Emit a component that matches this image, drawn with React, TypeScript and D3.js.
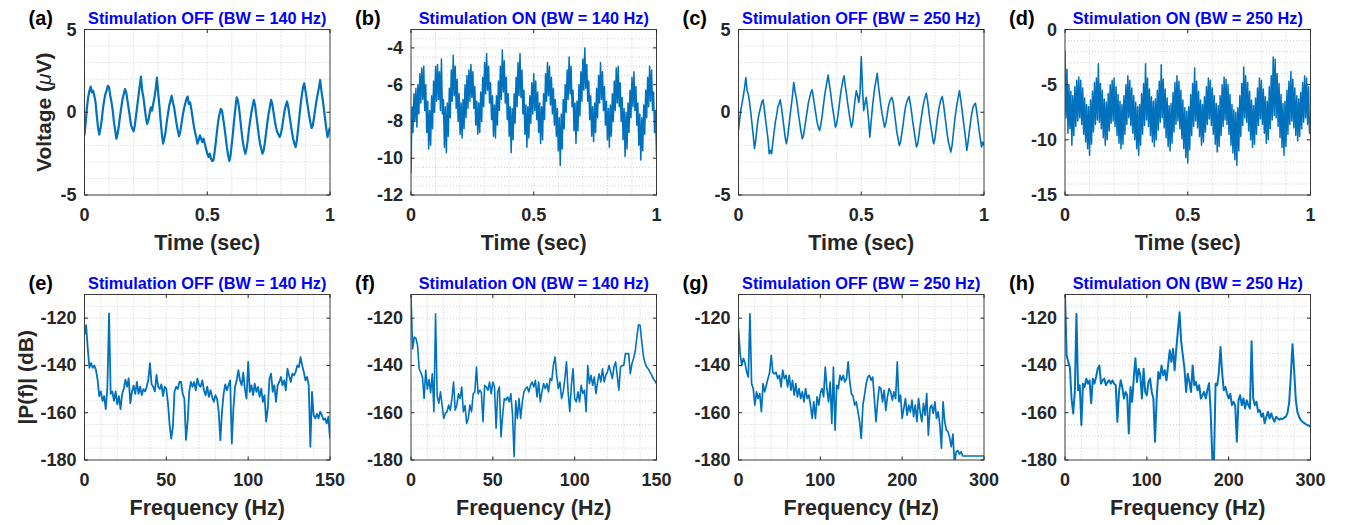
import React from "react";
import * as d3 from "d3";

// ---------------- data ----------------
const panelLabels = ["(a)", "(b)", "(c)", "(d)", "(e)", "(f)", "(g)", "(h)"];
const panelTitles = [
  "Stimulation OFF (BW = 140 Hz)",
  "Stimulation ON (BW = 140 Hz)",
  "Stimulation OFF (BW = 250 Hz)",
  "Stimulation ON (BW = 250 Hz)",
  "Stimulation OFF (BW = 140 Hz)",
  "Stimulation ON (BW = 140 Hz)",
  "Stimulation OFF (BW = 250 Hz)",
  "Stimulation ON (BW = 250 Hz)",
];
const timeTicks = [0, 0.5, 1];
const freqTicks150 = [0, 50, 100, 150];
const freqTicks300 = [0, 100, 200, 300];
const yTicksA = [-5, 0, 5];
const yTicksB = [-12, -10, -8, -6, -4];
const yTicksC = [-5, 0, 5];
const yTicksD = [-15, -10, -5, 0];
const yTicksPsd = [-180, -160, -140, -120];
const psdStep150 = 1; // Hz between samples
const psdStep300 = 2;

// (a) voltage, 0..1 s
const voltA = [
  -1.4, -0.6, 0.3, 0.9, 1.3, 1.55, 1.2, 1.3, 1.0, 0.6,
  -0.2, -0.9, -1.35, -1.0, -0.5, 0.2, 0.7, 1.1, 1.3, 1.6,
  1.5, 1.0, 0.6, 0.1, -0.6, -1.1, -1.6, -1.3, -0.8, -0.2,
  0.3, 0.8, 1.1, 1.4, 1.2, 0.7, 0.2, -0.3, -0.8, -1.0,
  -1.15, -0.8, -0.2, 0.4, 1.0, 1.6, 2.15, 1.3, 0.9, 0.3,
  -0.3, -0.7, -0.5, -0.1, 0.3, 0.1, 0.5, 0.9, 1.4, 2.1,
  1.2, 0.4, -0.5, -1.3, -1.9, -1.6, -1.2, -0.6, -0.1, 0.4,
  0.7, 1.0, 0.6, 0.3, -0.2, -0.7, -1.1, -1.45, -1.2, -0.7,
  -0.2, 0.2, 0.5, 0.8, 0.95, 0.5, 0.6, 0.2, -0.3, -0.8,
  -1.2, -1.5, -1.9, -1.7, -1.4, -1.6, -1.8, -1.6, -1.9, -2.2,
  -2.5, -2.7, -2.5, -2.8, -2.95, -2.9, -2.4, -1.8, -1.1, -0.5,
  -0.1, 0.2, 0.1, -0.4, -0.9, -1.5, -2.1, -2.6, -2.95, -2.6,
  -1.9, -1.2, -0.4, 0.3, 0.9, 0.7, 0.2, -0.5, -1.2, -1.8,
  -2.2, -2.5, -2.2, -1.7, -1.0, -0.5, 0.0, 0.4, 0.75, 0.4,
  -0.2, -0.8, -1.4, -1.9, -2.2, -2.5, -2.3, -1.8, -1.2, -0.6,
  -0.1, 0.3, 0.75, 0.5, 0.0, -0.5, -0.9, -1.2, -1.35, -1.5,
  -1.3, -0.9, -0.4, 0.1, 0.4, 0.65, 0.3, -0.2, -0.7, -1.2,
  -1.6, -1.9, -2.1, -1.7, -1.0, -0.3, 0.4, 1.0, 1.5, 1.75,
  1.3, 0.8, 0.3, -0.2, -0.6, -0.95, -0.8, -0.3, 0.2, 0.7,
  1.1, 1.5, 1.95, 1.3, 0.8, 0.2, -0.4, -1.0, -1.5, -1.2,
  -0.9,
];

// (b) voltage, 0..1 s
const voltB = [
  -10.8, -7.2, -8.6, -6.5, -8.0, -6.2, -8.3, -6.0, -7.6, -5.4,
  -7.0, -5.1, -6.8, -5.0, -7.4, -6.0, -8.6, -6.9, -9.5, -7.4,
  -9.3, -6.6, -8.4, -5.8, -7.5, -5.0, -6.9, -4.9, -6.8, -5.3,
  -7.4, -4.6, -7.6, -6.8, -9.4, -7.2, -9.7, -7.0, -8.8, -6.2,
  -7.8, -5.2, -6.9, -4.4, -6.6, -5.0, -7.3, -5.7, -8.0, -6.5,
  -8.7, -7.0, -8.9, -6.8, -8.4, -6.0, -7.8, -5.5, -7.3, -5.2,
  -6.9, -4.9, -6.7, -5.3, -7.3, -6.1, -8.2, -6.9, -8.7, -7.0,
  -8.6, -6.4, -8.0, -5.6, -7.2, -4.8, -6.5, -4.3, -6.3, -5.0,
  -7.0, -5.9, -7.9, -6.6, -8.8, -7.1, -8.9, -6.6, -8.2, -5.8,
  -7.4, -5.0, -6.8, -4.1, -6.4, -4.7, -7.0, -5.6, -7.9, -6.5,
  -8.8, -7.2, -9.7, -7.3, -9.0, -6.5, -8.1, -5.6, -7.2, -4.8,
  -6.6, -4.3, -6.7, -5.2, -7.6, -6.3, -8.7, -7.1, -9.4, -7.2,
  -8.9, -6.6, -8.1, -5.9, -7.6, -5.4, -7.4, -5.8, -7.9, -6.4,
  -8.6, -7.0, -9.2, -7.2, -9.0, -6.5, -7.9, -5.4, -6.9, -4.8,
  -6.6, -5.0, -7.1, -5.6, -7.6, -6.2, -8.2, -6.8, -8.8, -7.3,
  -9.6, -7.8, -10.4, -7.6, -9.5, -6.8, -8.4, -6.0, -7.5, -5.2,
  -6.8, -4.5, -6.5, -5.0, -7.2, -6.3, -8.5, -7.0, -9.2, -6.9,
  -8.5, -6.0, -7.7, -5.3, -6.9, -4.6, -6.3, -4.0, -6.2, -4.9,
  -6.9, -5.8, -7.9, -6.6, -8.8, -7.2, -9.1, -7.0, -8.6, -6.2,
  -7.8, -5.5, -7.0, -4.8, -6.8, -5.3, -7.4, -6.1, -8.2, -6.9,
  -9.0, -7.3, -9.4, -7.1, -8.8, -6.5, -8.0, -5.8, -7.4, -5.1,
  -7.0, -5.0, -7.2, -5.9, -8.0, -6.7, -9.0, -7.3, -9.9, -7.5,
  -9.5, -7.0, -8.6, -6.3, -7.8, -5.6, -7.2, -5.3, -7.4, -6.1,
  -8.2, -7.0, -9.3, -7.6, -10.1, -7.8, -9.6, -7.1, -8.7, -6.3,
  -7.8, -5.6, -7.2, -5.0, -6.9, -5.2, -7.4, -6.4, -8.6, -7.4,
  -9.9,
];

// (c) voltage, 0..1 s
const voltC = [
  -1.1, -0.4, 0.2, 0.6, 1.0, 1.5, 2.1, 1.3, 1.1, 0.6,
  0.0, -0.7, -1.4, -2.2, -1.7, -1.0, -0.4, 0.0, 0.3, 0.6,
  0.75, 0.2, -0.4, -1.0, -1.6, -2.5, -2.3, -2.5, -1.8, -1.2,
  -0.6, -0.2, 0.3, 0.5, 0.75, 0.3, -0.3, -0.9, -1.5, -1.9,
  -1.5, -0.9, -0.2, 0.4, 1.0, 1.8, 1.3, 0.9, 0.4, -0.2,
  -0.7, -1.2, -1.6, -1.4, -0.9, -0.4, 0.1, 0.6, 0.9, 1.2,
  1.35, 0.9, 0.4, -0.1, -0.6, -0.9, -1.1, -0.8, -0.3, 0.3,
  0.9, 1.4, 1.8, 2.25, 1.7, 1.2, 0.6, 0.1, -0.4, -0.9,
  -0.7, -0.2, 0.4, 1.0, 1.5, 1.9, 2.2, 1.6, 1.1, 0.5,
  0.0, -0.5, -0.9, -0.6, 0.1, 0.8, 1.3, 1.0, 0.6, 1.2,
  3.35, 1.5, 0.1, 0.5, 0.9, 0.3, -0.5, -1.5, -0.6, 0.2,
  0.9, 1.5, 1.9, 2.35, 1.6, 1.0, 0.4, -0.1, -0.5, -0.9,
  -0.7, -0.2, 0.3, 0.6, 0.8, 0.9, 0.6, 0.0, -0.6, -1.2,
  -1.6, -2.0, -1.8, -1.3, -0.8, -0.2, 0.3, 0.6, 0.8, 0.95,
  0.5, 0.0, -0.6, -1.1, -1.6, -2.1, -1.9, -1.4, -0.8, -0.3,
  0.2, 0.6, 0.9, 1.15, 0.7, 0.1, -0.5, -1.0, -1.5, -1.9,
  -1.6, -1.0, -0.4, 0.1, 0.5, 0.8, 0.95, 0.5, -0.1, -0.7,
  -1.3, -1.8, -2.1, -2.4, -2.0, -1.3, -0.6, 0.0, 0.5, 0.9,
  1.3, 0.8, 0.2, -0.4, -1.0, -1.6, -2.3, -1.8, -1.2, -0.6,
  -0.1, 0.3, 0.45, 0.55, 0.1, -0.5, -1.1, -1.6, -2.1, -1.8,
  -2.0,
];

// (d) voltage, 0..1 s
const voltD = [
  -1.9, -8.0, -3.6, -9.4, -5.0, -9.0, -5.6, -10.5, -6.0, -9.6,
  -5.2, -8.8, -4.6, -8.3, -4.3, -8.0, -4.6, -8.6, -5.3, -9.5,
  -6.2, -10.2, -6.8, -10.8, -7.0, -11.4, -6.4, -10.4, -5.6, -9.3,
  -4.8, -8.6, -4.4, -8.2, -3.1, -8.4, -4.9, -9.0, -5.5, -9.8,
  -6.3, -10.5, -6.6, -10.0, -5.8, -9.2, -5.0, -8.5, -4.6, -8.3,
  -4.4, -8.8, -5.2, -9.6, -5.9, -10.3, -6.5, -10.8, -6.8, -10.4,
  -6.0, -9.5, -5.0, -8.6, -4.2, -8.0, -4.6, -8.7, -5.3, -9.4,
  -6.0, -10.0, -6.6, -10.8, -7.0, -11.4, -6.8, -10.5, -5.8, -9.5,
  -4.9, -8.7, -3.1, -8.2, -4.4, -8.8, -5.4, -9.6, -6.1, -10.2,
  -6.5, -10.6, -6.3, -10.0, -5.5, -9.1, -4.7, -8.4, -3.2, -8.0,
  -4.5, -8.9, -5.4, -9.8, -6.2, -10.6, -6.9, -11.0, -6.7, -10.3,
  -5.7, -9.3, -4.8, -8.6, -4.2, -8.3, -4.7, -9.0, -5.5, -9.9,
  -6.4, -10.8, -7.1, -11.6, -7.4, -12.1, -7.0, -10.9, -5.9, -9.6,
  -4.9, -8.8, -3.5, -8.3, -4.7, -8.9, -5.6, -9.7, -6.4, -10.5,
  -6.8, -10.2, -6.1, -9.3, -5.2, -8.6, -4.4, -8.1, -4.6, -8.7,
  -5.3, -9.5, -6.0, -10.4, -6.7, -11.1, -6.9, -10.6, -6.0, -9.6,
  -5.0, -8.8, -4.3, -8.2, -4.5, -8.6, -5.0, -9.5, -5.9, -10.5,
  -6.8, -11.2, -7.3, -11.8, -7.5, -12.3, -7.1, -11.0, -6.0, -9.7,
  -4.9, -8.7, -3.4, -8.0, -4.2, -8.4, -4.8, -9.2, -5.6, -10.0,
  -6.4, -10.7, -6.9, -10.4, -6.2, -9.5, -5.3, -8.7, -4.4, -8.1,
  -4.6, -8.6, -5.4, -9.4, -6.1, -10.3, -6.5, -10.0, -5.2, -9.0,
  -4.2, -8.2, -2.5, -7.8, -2.7, -8.0, -4.0, -8.8, -4.9, -9.8,
  -5.9, -10.7, -6.7, -11.4, -6.5, -10.6, -5.5, -9.5, -4.7, -8.6,
  -3.8, -8.3, -4.5, -8.9, -5.3, -9.6, -6.0, -10.1, -6.3, -9.7,
  -5.7, -9.0, -4.8, -8.4, -4.2, -8.0, -4.4, -8.6, -5.2, -9.4,
  -7.9,
];

// (e) |P(f)| dB, 0..150 Hz, 1 Hz steps
const psdE = [
  -127, -123, -133, -141, -139, -141, -140, -142, -146, -153,
  -151, -155, -153, -158.5, -149, -118, -152, -151, -155, -151,
  -156.5, -153, -158.5, -152, -150, -146, -149, -145.5, -156, -151,
  -148.5, -152, -147, -152, -149, -152.5, -150, -151, -149, -146,
  -139, -148, -149, -151, -144, -149, -150, -148, -153, -149,
  -150, -156, -165, -171, -166, -151, -149, -150, -147, -147,
  -152, -154, -171.5, -164, -151, -147, -149, -147, -150.5, -145.6,
  -148.4, -149, -146.3, -150.5, -152.6, -149, -153.3, -150.5, -153.3, -155.4,
  -152.6, -154, -159.6, -171.6, -159.6, -152, -148, -150.5, -148.4, -146.3,
  -173, -158, -149, -146.3, -142, -146.3, -148.4, -143, -150, -154,
  -138.5, -151.2, -148.4, -152.6, -147.7, -151.2, -149.1, -153.3, -149.8, -155.4,
  -152.6, -163.8, -158.2, -145.6, -143.5, -151.2, -148.4, -155.4, -148.4, -147,
  -144.9, -148.4, -146.3, -150.5, -141.4, -144.2, -147, -143.5, -144.2, -142.8,
  -140, -140.7, -136.5, -140, -142.8, -146.3, -144.9, -148.4, -174.4, -151.2,
  -161, -162.4, -160.5, -162.4, -159.6, -161, -163, -162.4, -164.5, -161.7,
  -170.9,
];

// (f) |P(f)| dB, 0..150 Hz, 1 Hz steps
const psdF = [
  -110, -133, -128, -128.5, -131.5, -141.4, -143, -145, -154, -142,
  -150, -146, -151.5, -143.5, -159.6, -118.2, -153, -156, -151.2, -156.8,
  -162.4, -160.3, -159.6, -156.8, -159, -154, -147, -158.9, -156.8, -152,
  -154, -149.1, -159.6, -157, -164.5, -162.4, -156.8, -159.6, -152, -151.2,
  -140.7, -152, -150.5, -151.5, -163.8, -148.4, -149.1, -150.5, -147, -152,
  -147, -149, -166.6, -151.2, -149.1, -170.2, -161, -154, -154.7, -153.3,
  -155.4, -151.9, -160.5, -178.6, -155, -162.4, -154, -162.4, -155.4, -151.2,
  -149.8, -149.1, -151.2, -148.4, -147, -149.1, -146.3, -153.3, -147, -155.4,
  -151.2, -147.7, -149.8, -147.7, -151.2, -145.6, -146.3, -140, -136.4, -144.2,
  -149.8, -147, -154, -151.2, -145.6, -138.5, -151.2, -159.6, -148.4, -141.4,
  -154, -155.4, -151.2, -155.4, -148.4, -151.9, -150.5, -159.6, -140, -147.7,
  -144.2, -148.4, -144.9, -151.9, -147, -143.5, -147, -141.4, -147, -144.2,
  -142.8, -140, -142.8, -145.6, -140.7, -138.5, -144.2, -150.5, -140.7, -140,
  -140, -135, -135, -135, -143.5, -139.3, -137, -134, -128, -122.8,
  -123.1, -130, -136, -139, -140.7, -141.5, -142.8, -144, -145.6, -146.5,
  -147.7,
];

// (g) |P(f)| dB, 0..300 Hz, 2 Hz steps
const psdG = [
  -124.5, -135, -140, -137, -139, -142.8, -144.9, -118.2, -147.7, -149.8,
  -156.8, -151.2, -154, -152, -159.6, -147.7, -151.2, -148.4, -145.6, -143,
  -135.7, -143, -143.5, -143, -145.6, -144.2, -149.1, -142, -145.6, -144.2,
  -149.1, -144.2, -150.5, -146.3, -152.6, -147.7, -153.3, -149.8, -154, -151.2,
  -155.4, -149.8, -154, -152.6, -156.8, -162.4, -155.4, -162.4, -153.3, -156.8,
  -151.9, -149.8, -153.3, -140.7, -149.8, -155.4, -147, -164.5, -140.7, -167.4,
  -148.4, -149.8, -144.2, -146.3, -144.2, -147, -145.6, -138.5, -147, -152,
  -153, -156.8, -155.4, -159.6, -163.8, -170.9, -156.8, -152.6, -147.7, -144.9,
  -144.2, -146.3, -144.9, -154, -163.8, -155.4, -149.1, -149.8, -155.4, -150.5,
  -159, -153.3, -149.8, -151.2, -154.7, -151.2, -154, -138.5, -155.4, -152.6,
  -162.4, -158.2, -154, -161, -156.8, -159.6, -154.7, -161.7, -156.8, -163.8,
  -154, -159.6, -163.8, -156, -161, -151.9, -169.5, -158, -156.8, -160.3,
  -155.4, -162.4, -159.6, -165, -175, -155.4, -163.8, -167.4, -168, -170.5,
  -174.4, -169, -182, -176.5, -176, -177.5, -176.5, -178.3, -178.3, -178.3,
  -178.3, -178.3, -178.3, -178.3, -178.3, -178.3, -178.3, -178.3, -178.3, -178.3,
  -178.3,
];

// (h) |P(f)| dB, 0..300 Hz, 2 Hz steps
const psdH = [
  -110, -135.7, -138.5, -141, -154, -160.3, -151.2, -118.2, -150.5, -148.4,
  -165.2, -147.7, -149.1, -145.6, -147.7, -146.3, -156, -145.6, -147.7, -144.9,
  -141.4, -140, -147.7, -146.3, -145.6, -148.4, -147, -146.3, -147.7, -146.3,
  -147.7, -148.4, -163.8, -151.2, -146.3, -149.1, -154, -151.2, -152.6, -168.8,
  -149.1, -155.4, -145.6, -137, -147, -141.4, -144.2, -154, -141.4, -151.2,
  -152.6, -147, -145.6, -151.2, -154, -172.3, -154, -142.8, -145.6, -140,
  -144.2, -142, -146.3, -140, -133.6, -138.5, -133, -142, -133, -125.2,
  -117.5, -130, -135.7, -141.4, -151.2, -143.5, -147, -151.2, -140, -148.4,
  -147, -150.5, -148.4, -154, -152.6, -151.2, -154, -150.5, -147.5, -159.6,
  -179.3, -181, -147.7, -148.4, -143, -132.2, -142.8, -150.5, -149.1, -151.9,
  -154, -152, -156.8, -155.4, -157, -172.3, -154.7, -152.6, -156.8, -154,
  -158.2, -154.7, -156.8, -158.2, -129.8, -154, -156.8, -155.4, -159.6, -158.9,
  -161.7, -160.3, -164.5, -161.7, -159.6, -162.4, -160.3, -162.4, -163.8, -161.7,
  -162.4, -163, -162.4, -162.7, -162, -161.7, -160, -155.4, -144, -131,
  -142, -154.5, -159.6, -161.7, -163, -163.8, -164.3, -164.8, -165.2, -165.5,
  -165.8,
];

// ---------------- layout ----------------
const FONT = "'Liberation Sans', Arial, Helvetica, sans-serif";
const COLS = [84.5, 411, 738.5, 1065];
const ROWS = [29.5, 294.5];
const W = 245.5;
const H = 165.5;
const LINE_COLOR = "#0072BD";

const timeAxis = (arr: number[]) => arr.map((_, i) => i / (arr.length - 1));
const freqAxis = (arr: number[], step: number) => arr.map((_, i) => i * step);

type Panel = {
  id: string;
  col: number;
  row: number;
  label: string;
  title: string;
  xs: number[];
  ys: number[];
  xDomain: [number, number];
  yDomain: [number, number];
  xTicks: number[];
  yTicks: number[];
  xMinor: number;
  yMinor: number;
  xLabel: string;
  yLabel: "volt" | "psd" | null;
  sw: number;
};

const panels: Panel[] = [
  { id: "a", col: 0, row: 0, label: panelLabels[0], title: panelTitles[0], xs: timeAxis(voltA), ys: voltA, xDomain: [0, 1], yDomain: [-5, 5], xTicks: timeTicks, yTicks: yTicksA, xMinor: 0.1, yMinor: 1, xLabel: "Time (sec)", yLabel: "volt", sw: 2.2 },
  { id: "b", col: 1, row: 0, label: panelLabels[1], title: panelTitles[1], xs: timeAxis(voltB), ys: voltB, xDomain: [0, 1], yDomain: [-12, -3], xTicks: timeTicks, yTicks: yTicksB, xMinor: 0.1, yMinor: 0.5, xLabel: "Time (sec)", yLabel: null, sw: 1.5 },
  { id: "c", col: 2, row: 0, label: panelLabels[2], title: panelTitles[2], xs: timeAxis(voltC), ys: voltC, xDomain: [0, 1], yDomain: [-5, 5], xTicks: timeTicks, yTicks: yTicksC, xMinor: 0.1, yMinor: 1, xLabel: "Time (sec)", yLabel: null, sw: 1.6 },
  { id: "d", col: 3, row: 0, label: panelLabels[3], title: panelTitles[3], xs: timeAxis(voltD), ys: voltD, xDomain: [0, 1], yDomain: [-15, 0], xTicks: timeTicks, yTicks: yTicksD, xMinor: 0.1, yMinor: 1, xLabel: "Time (sec)", yLabel: null, sw: 1.5 },
  { id: "e", col: 0, row: 1, label: panelLabels[4], title: panelTitles[4], xs: freqAxis(psdE, psdStep150), ys: psdE, xDomain: [0, 150], yDomain: [-180, -110], xTicks: freqTicks150, yTicks: yTicksPsd, xMinor: 10, yMinor: 5, xLabel: "Frequency (Hz)", yLabel: "psd", sw: 1.8 },
  { id: "f", col: 1, row: 1, label: panelLabels[5], title: panelTitles[5], xs: freqAxis(psdF, psdStep150), ys: psdF, xDomain: [0, 150], yDomain: [-180, -110], xTicks: freqTicks150, yTicks: yTicksPsd, xMinor: 10, yMinor: 5, xLabel: "Frequency (Hz)", yLabel: null, sw: 1.6 },
  { id: "g", col: 2, row: 1, label: panelLabels[6], title: panelTitles[6], xs: freqAxis(psdG, psdStep300), ys: psdG, xDomain: [0, 300], yDomain: [-180, -110], xTicks: freqTicks300, yTicks: yTicksPsd, xMinor: 20, yMinor: 5, xLabel: "Frequency (Hz)", yLabel: null, sw: 1.7 },
  { id: "h", col: 3, row: 1, label: panelLabels[7], title: panelTitles[7], xs: freqAxis(psdH, psdStep300), ys: psdH, xDomain: [0, 300], yDomain: [-180, -110], xTicks: freqTicks300, yTicks: yTicksPsd, xMinor: 20, yMinor: 5, xLabel: "Frequency (Hz)", yLabel: null, sw: 2.0 },
];

function gridSteps(domain: [number, number], step: number): number[] {
  const n = Math.round((domain[1] - domain[0]) / step);
  return d3.range(1, n).map((k) => domain[0] + k * step);
}

function PanelView({ p }: { p: Panel }) {
  const left = COLS[p.col];
  const top = ROWS[p.row];
  const x = d3.scaleLinear().domain(p.xDomain).range([left, left + W]);
  const y = d3.scaleLinear().domain(p.yDomain).range([top + H, top]);
  const line = d3
    .line<number>()
    .x((_, i) => x(p.xs[i]))
    .y((d) => y(d));
  const pathD = line(p.ys) || "";
  const xg = gridSteps(p.xDomain, p.xMinor);
  const yg = gridSteps(p.yDomain, p.yMinor);
  const clipId = `clip-${p.id}`;
  const tickLen = 3.5;
  const axisColor = "#262626";
  const cx = left + W / 2;
  const cy = top + H / 2;

  return (
    <g>
      <defs>
        <clipPath id={clipId}>
          <rect x={left} y={top} width={W} height={H} />
        </clipPath>
      </defs>
      {xg.map((v) => (
        <line key={"xg" + v} x1={x(v)} x2={x(v)} y1={top} y2={top + H} stroke="#c4c4c4" strokeWidth={0.8} strokeDasharray="1 2" />
      ))}
      {yg.map((v) => (
        <line key={"yg" + v} x1={left} x2={left + W} y1={y(v)} y2={y(v)} stroke="#c4c4c4" strokeWidth={0.8} strokeDasharray="1 2" />
      ))}
      <path d={pathD} fill="none" stroke={LINE_COLOR} strokeWidth={p.sw} strokeLinejoin="round" clipPath={`url(#${clipId})`} />
      <rect x={left} y={top} width={W} height={H} fill="none" stroke="#3c3c3c" strokeWidth={1} />
      {p.xTicks.map((v) => (
        <g key={"xt" + v}>
          <line x1={x(v)} x2={x(v)} y1={top + H} y2={top + H - tickLen} stroke={axisColor} strokeWidth={1} />
          <line x1={x(v)} x2={x(v)} y1={top} y2={top + tickLen} stroke={axisColor} strokeWidth={1} />
          <text x={x(v)} y={top + H + 20} textAnchor="middle" dominantBaseline="central" fontSize={18} fontWeight="bold" fill={axisColor}>
            {String(v)}
          </text>
        </g>
      ))}
      {p.yTicks.map((v) => (
        <g key={"yt" + v}>
          <line x1={left} x2={left + tickLen} y1={y(v)} y2={y(v)} stroke={axisColor} strokeWidth={1} />
          <line x1={left + W} x2={left + W - tickLen} y1={y(v)} y2={y(v)} stroke={axisColor} strokeWidth={1} />
          <text x={left - 8} y={y(v)} textAnchor="end" dominantBaseline="central" fontSize={18} fontWeight="bold" fill={axisColor}>
            {String(v)}
          </text>
        </g>
      ))}
      <text x={left - 56} y={top - 12} dominantBaseline="central" fontSize={20} fontWeight="bold" fill="#000">
        {p.label}
      </text>
      <text x={cx} y={top - 12} textAnchor="middle" dominantBaseline="central" fontSize={16.3} fontWeight="bold" fill="#0000FF">
        {p.title}
      </text>
      <text x={cx} y={top + H + 48} textAnchor="middle" dominantBaseline="central" fontSize={21.5} fontWeight="bold" fill={axisColor}>
        {p.xLabel}
      </text>
      {p.yLabel === "volt" && (
        <text transform={`translate(43,${cy}) rotate(-90)`} textAnchor="middle" dominantBaseline="central" fontSize={21} fontWeight="bold" fill={axisColor}>
          Voltage (<tspan fontStyle="italic" fontWeight="normal">μ</tspan>V)
        </text>
      )}
      {p.yLabel === "psd" && (
        <text transform={`translate(25,${cy}) rotate(-90)`} textAnchor="middle" dominantBaseline="central" fontSize={21} fontWeight="bold" fill={axisColor}>
          |P(f)| (dB)
        </text>
      )}
    </g>
  );
}

export default function App() {
  return (
    <svg
      width={1345}
      height={525}
      viewBox="0 0 1345 525"
      style={{ position: "absolute", left: 0, top: 0, display: "block", background: "#fff" }}
      fontFamily={FONT}
    >
      <rect x={0} y={0} width={1345} height={525} fill="#fff" />
      {panels.map((p) => (
        <PanelView key={p.id} p={p} />
      ))}
    </svg>
  );
}
